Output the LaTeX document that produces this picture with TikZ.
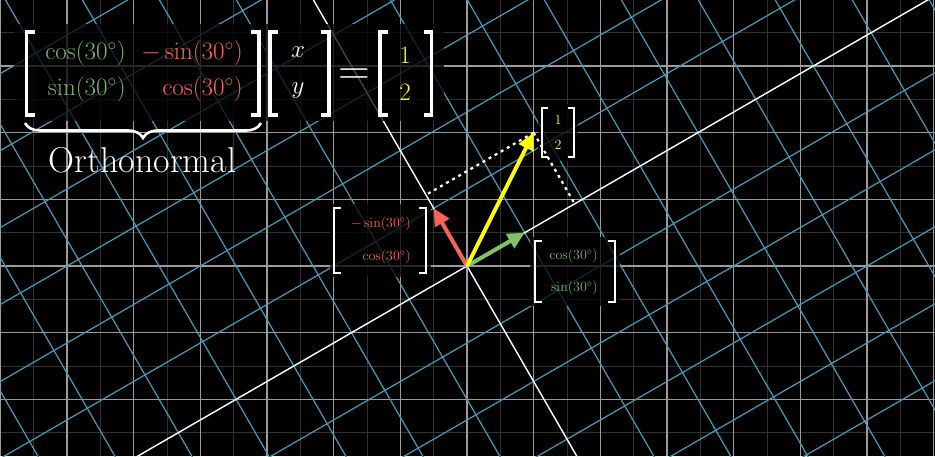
\RequirePackage{fix-cm}
\documentclass[tikz,border=0pt]{standalone}
\usetikzlibrary{arrows.meta,decorations.pathreplacing}
\definecolor{gmaj}{RGB}{155,155,155}
\definecolor{gmin}{RGB}{50,50,50}
\definecolor{gblue}{RGB}{72,155,185}
\definecolor{vgreen}{HTML}{83C167}
\definecolor{tgreen}{RGB}{125,180,105}
\definecolor{vred}{HTML}{FC6255}
\definecolor{vyellow}{HTML}{FFFF00}
\newcommand{\lbrk}[5]{\draw[#5] ({#1+#4},#2) -- (#1,#2) -- (#1,#3) -- ({#1+#4},#3);}
\newcommand{\rbrk}[5]{\draw[#5] ({#1-#4},#2) -- (#1,#2) -- (#1,#3) -- ({#1-#4},#3);}
\tikzset{
  minorline/.style={gmin, line width=1pt},
  majorline/.style={gmaj, line width=1.1pt},
  blueline/.style={gblue, line width=1.2pt},
  axisline/.style={white, line width=1.3pt},
  vec/.style={line width=4pt, -{Triangle[length=17pt,width=16pt]}},
  dotline/.style={white, line width=2.2pt, dash pattern=on 3pt off 4pt},
  backdrop/.style={black, fill opacity=0.75},
  bigbrk/.style={white, line width=3.2pt},
  smbrk/.style={white, line width=2.4pt},
  big/.style={font=\fontsize{25}{30}\selectfont, inner sep=0pt},
  small/.style={font=\fontsize{14}{17}\selectfont, inner sep=0pt},
}
\begin{document}
\begin{tikzpicture}[x=1pt,y=-1pt]
\fill[black] (0,0) rectangle (935,456);
\useasboundingbox (0,0) rectangle (935,456);
\clip (0,0) rectangle (935,456);
% background grid
\foreach \i in {-14,...,14} \draw[minorline] ({467+\i*33.3333},0) -- ({467+\i*33.3333},456);
\foreach \j in {-8,...,6} \draw[minorline] (0,{266+\j*33.3333}) -- (935,{266+\j*33.3333});
\foreach \i in {-7,...,7} \draw[majorline] ({467+\i*66.6667},0) -- ({467+\i*66.6667},456);
\foreach \j in {-4,...,3} \draw[majorline] (0,{266+\j*66.6667}) -- (935,{266+\j*66.6667});
% math frame
\begin{scope}[shift={(467,266)}, x=66.6667pt, y=66.6667pt]
  \begin{scope}[rotate=30]
    \foreach \k in {-10,...,10} {
      \draw[blueline] (\k,-11) -- (\k,11);
      \draw[blueline] (-11,\k) -- (11,\k);
    }
    \draw[axisline] (-11,0) -- (11,0);
    \draw[axisline] (0,-11) -- (0,11);
  \end{scope}
  \coordinate (O) at (0,0);
  \coordinate (G) at (0.8660,0.5);
  \coordinate (R) at (-0.5,0.8660);
  \coordinate (Y) at (1,2);
  \coordinate (PX) at (1.6160,0.9330);
  \coordinate (PY) at (-0.6160,1.0670);
\end{scope}
% backdrops
\fill[backdrop] (14,24) rectangle (444,121);
\fill[backdrop] (330,204) rectangle (431,277);
\fill[backdrop] (530,237) rectangle (620,306);
\fill[backdrop] (538,104) rectangle (578,161);
% dotted projections
\draw[dotline] (Y) -- (PY);
\draw[dotline] (Y) -- (PX);
% vectors
\draw[vec, vred] (O) -- (R);
\draw[vec, vgreen] (O) -- (G);
\draw[vec, vyellow] (O) -- (Y);
% main equation
\lbrk{26.5}{32}{115}{8}{bigbrk}
\rbrk{259}{32}{115}{8}{bigbrk}
\lbrk{270}{32}{115}{8}{bigbrk}
\rbrk{329}{32}{115}{8}{bigbrk}
\lbrk{380}{32}{115}{8}{bigbrk}
\rbrk{431.5}{32}{115}{8}{bigbrk}
\node[big, text=tgreen, anchor=east] (m11) at (126,53) {$\cos(30^\circ)$};
\node[big, text=vred, anchor=east] (m12) at (243,53) {$-\sin(30^\circ)$};
\node[big, text=tgreen, anchor=east] (m21) at (126,89.5) {$\sin(30^\circ)$};
\node[big, text=vred, anchor=east] (m22) at (243,89.5) {$\cos(30^\circ)$};
\node[big, text=white] (vx) at (298,52) {$x$};
\node[big, text=white] (vy) at (298,91) {$y$};
\node[text=white, font=\fontsize{44}{50}\selectfont, inner sep=0pt, anchor=base] (eq) at (354,84) {$=$};
\node[big, text=vyellow] (r1) at (405,55) {$1$};
\node[big, text=vyellow] (r2) at (405,92) {$2$};
\draw[white, line width=2.6pt, decorate, decoration={brace, mirror, amplitude=15pt}] (25,123) -- (261,123);
\node[text=white, font=\fontsize{36}{43}\selectfont, inner sep=0pt] (ortho) at (142.5,160) {Orthonormal};
% yellow label
\lbrk{542}{108}{157}{6}{smbrk}
\rbrk{574}{108}{157}{6}{smbrk}
\node[small, text=vyellow] (y1) at (558,120) {$1$};
\node[small, text=vyellow] (y2) at (558,145) {$2$};
% red label
\lbrk{334}{208}{273}{7}{smbrk}
\rbrk{426}{208}{273}{7}{smbrk}
\node[small, text=vred, anchor=east] (rl1) at (411,224) {$-\sin(30^\circ)$};
\node[small, text=vred, anchor=east] (rl2) at (411,257) {$\cos(30^\circ)$};
% green label
\lbrk{535}{241}{302}{7}{smbrk}
\rbrk{615}{241}{302}{7}{smbrk}
\node[small, text=tgreen, anchor=east] (gl1) at (598,256) {$\cos(30^\circ)$};
\node[small, text=tgreen, anchor=east] (gl2) at (598,288) {$\sin(30^\circ)$};
\end{tikzpicture}
\end{document}
